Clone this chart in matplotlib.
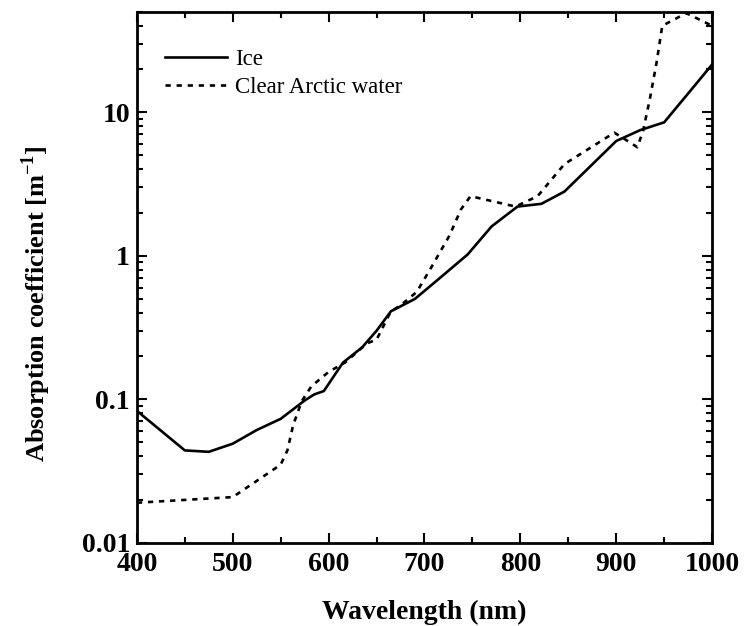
import matplotlib
matplotlib.use('Agg')
import matplotlib.pyplot as plt
import numpy as np
from matplotlib.ticker import FixedLocator, FixedFormatter, MultipleLocator, LogLocator, NullFormatter

plt.rcParams['font.family'] = ['Liberation Serif', 'DejaVu Serif']
plt.rcParams['mathtext.fontset'] = 'custom'
plt.rcParams['mathtext.rm'] = 'Liberation Serif'
plt.rcParams['mathtext.bf'] = 'Liberation Serif:bold'

# 数据
ice_wl = [400, 450, 475, 500, 525, 550, 575, 585, 595, 615, 635, 650, 665, 690, 715,
          745, 770, 797, 822, 846, 900, 925, 950, 975, 1000]
ice_abs = [0.083, 0.044, 0.043, 0.049, 0.061, 0.073, 0.098, 0.108, 0.114, 0.18, 0.23,
           0.30, 0.41, 0.50, 0.69, 1.02, 1.6, 2.2, 2.3, 2.8, 6.3, 7.5, 8.5, 13.5, 21.5]

water_wl = [400, 500, 550, 557, 563, 572, 582, 600, 617, 640, 650, 665, 675, 692, 708,
            726, 738, 748, 795, 818, 846, 898, 912, 922, 928, 935, 942, 948, 973, 1000]
water_abs = [0.019, 0.0208, 0.035, 0.044, 0.066, 0.097, 0.123, 0.155, 0.18, 0.245, 0.26,
             0.41, 0.45, 0.56, 0.85, 1.38, 2.1, 2.6, 2.2, 2.6, 4.35, 7.2, 6.3, 5.7, 7.4,
             12.3, 22, 40, 49, 40]

y_ticks = [0.01, 0.1, 1, 10]
y_tick_labels = ['0.01', '0.1', '1', '10']

fig = plt.figure(figsize=(7.48, 6.26), dpi=100)
ax = fig.add_axes([0.183, 0.133, 0.769, 0.848])

ax.plot(ice_wl, ice_abs, color='black', lw=1.9, label='Ice')
ax.plot(water_wl, water_abs, color='black', lw=1.9, dashes=(2, 2.2), label='Clear Arctic water')

ax.set_yscale('log')
ax.set_xlim(400, 1000)
ax.set_ylim(0.01, 50)

ax.xaxis.set_major_locator(MultipleLocator(100))
ax.xaxis.set_minor_locator(MultipleLocator(50))
ax.yaxis.set_major_locator(FixedLocator(y_ticks))
ax.yaxis.set_major_formatter(FixedFormatter(y_tick_labels))
ax.yaxis.set_minor_locator(LogLocator(base=10, subs=np.arange(2, 10)))
ax.yaxis.set_minor_formatter(NullFormatter())

ax.tick_params(which='both', direction='in', top=True, right=True, width=1.5)
ax.tick_params(which='major', length=7, labelsize=20)
ax.tick_params(axis='x', which='major', pad=7)
ax.tick_params(axis='y', which='major', pad=5)
ax.tick_params(which='minor', length=4)
for lab in ax.get_xticklabels() + ax.get_yticklabels():
    lab.set_fontweight('bold')
for s in ax.spines.values():
    s.set_linewidth(2)

ax.set_xlabel('Wavelength (nm)', fontsize=20, fontweight='bold', labelpad=16)
ax.set_ylabel(r'Absorption coefficient [m$^{\mathbf{-1}}$]', fontsize=19,
              fontweight='bold')
ax.yaxis.set_label_coords(-0.146, 0.45)

ax.legend(loc='upper left', bbox_to_anchor=(0.049, 0.93), frameon=False,
          fontsize=16.5, handlelength=2.7, handletextpad=0.35, labelspacing=0.3,
          borderaxespad=0, borderpad=0)

plt.savefig('out.png', dpi=100)
